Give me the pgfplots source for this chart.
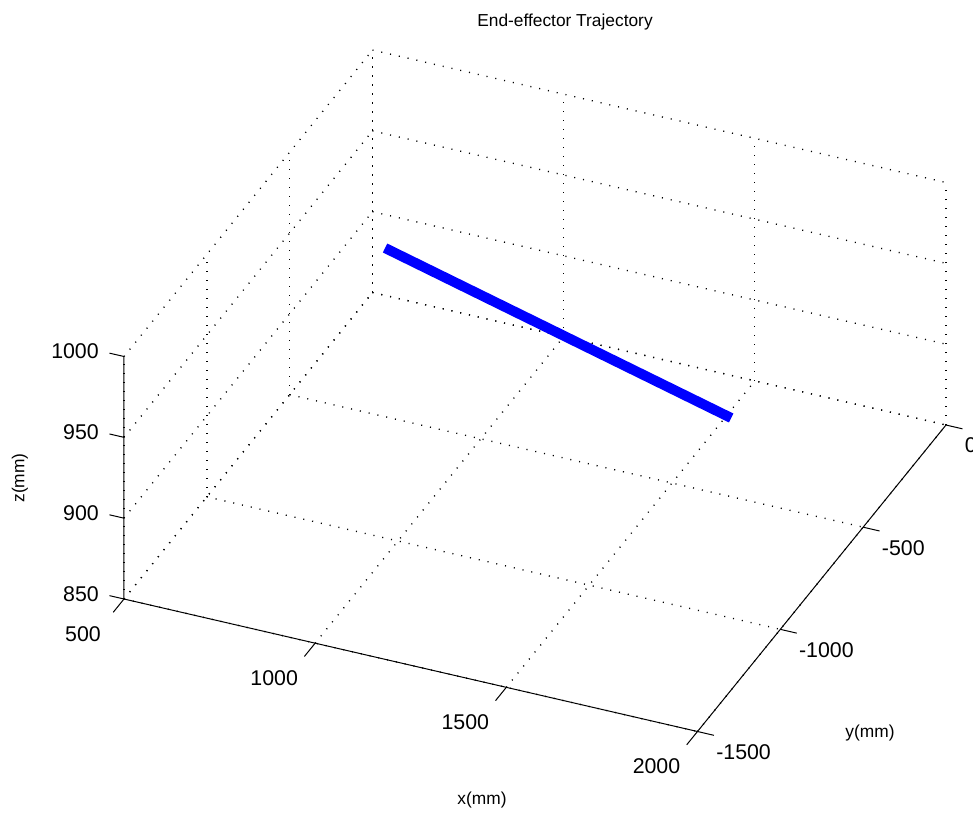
\documentclass[border=0pt]{standalone}
\usepackage{pgfplots}
\pgfplotsset{compat=1.18}
\usepackage{fontspec}
\setmainfont{Liberation Sans}
\begin{document}
\fontsize{13pt}{15pt}\selectfont
\begin{tikzpicture}
\begin{axis}[
  x={(0.28675pt,-0.06625pt)}, y={(0.12425pt,0.15325pt)}, z={(0pt,1.2125pt)},
  xmin=500, xmax=2000, ymin=-1500, ymax=0, zmin=850, zmax=1000,
  xtick={500,1000,1500,2000}, ytick={-1500,-1000,-500,0}, ztick={850,900,950,1000},
  grid=major,
  major grid style={black, line width=1pt, dash pattern=on 0.8pt off 5.95pt},
  axis line style={draw=none},
  tick style={draw=none},
  major tick length=0pt,
  tick align=outside,
  /pgf/number format/assume math mode=true,
  /pgf/number format/1000 sep={},
  scaled ticks=false,
  ticklabel style={font=\fontsize{16pt}{18pt}\selectfont, inner sep=0pt},
  xticklabel style={anchor=center, xshift=-30.75pt, yshift=-26pt},
  yticklabel style={anchor=west, xshift=13.9pt, yshift=-15.4pt},
  zticklabel style={anchor=east, xshift=-18.75pt, yshift=4pt},
  clip=false,
]
\addplot3[blue, line width=7.5pt, line cap=butt] coordinates {(737,-471,950) (1803,-842,950)};
\coordinate (A) at (axis cs:500,-1500,850);
\draw[black, line width=0.75pt] (axis cs:500,-1500,1000) -- (axis cs:500,-1500,850) -- (axis cs:2000,-1500,850) -- (axis cs:2000,0,850);
% x ticks
\draw[black, line width=0.75pt] (axis cs:500,-1500,850) -- (axis cs:500,-1565,850);
\draw[black, line width=0.75pt] (axis cs:1000,-1500,850) -- (axis cs:1000,-1565,850);
\draw[black, line width=0.75pt] (axis cs:1500,-1500,850) -- (axis cs:1500,-1565,850);
\draw[black, line width=0.75pt] (axis cs:2000,-1500,850) -- (axis cs:2000,-1565,850);
% y ticks
\draw[black, line width=0.75pt] (axis cs:2000,-1500,850) -- (axis cs:2043,-1500,850);
\draw[black, line width=0.75pt] (axis cs:2000,-1000,850) -- (axis cs:2043,-1000,850);
\draw[black, line width=0.75pt] (axis cs:2000,-500,850) -- (axis cs:2043,-500,850);
\draw[black, line width=0.75pt] (axis cs:2000,0,850) -- (axis cs:2043,0,850);
% z ticks
\draw[black, line width=0.75pt] (axis cs:500,-1500,850) -- (axis cs:462,-1500,850);
\draw[black, line width=0.75pt] (axis cs:500,-1500,900) -- (axis cs:462,-1500,900);
\draw[black, line width=0.75pt] (axis cs:500,-1500,950) -- (axis cs:462,-1500,950);
\draw[black, line width=0.75pt] (axis cs:500,-1500,1000) -- (axis cs:462,-1500,1000);
\end{axis}
\node at ([shift={(330.75pt,432.75pt)}]A) {End-effector Trajectory};
\node at ([shift={(268.5pt,-150.75pt)}]A) {x(mm)};
\node at ([shift={(559.5pt,-100.5pt)}]A) {y(mm)};
\node[rotate=90] at ([shift={(-78pt,90.75pt)}]A) {z(mm)};
\pgfresetboundingbox
\path[use as bounding box] ([shift={(-93pt,-161.25pt)}]A) rectangle ([shift={(636.75pt,449.25pt)}]A);
\end{tikzpicture}
\end{document}
